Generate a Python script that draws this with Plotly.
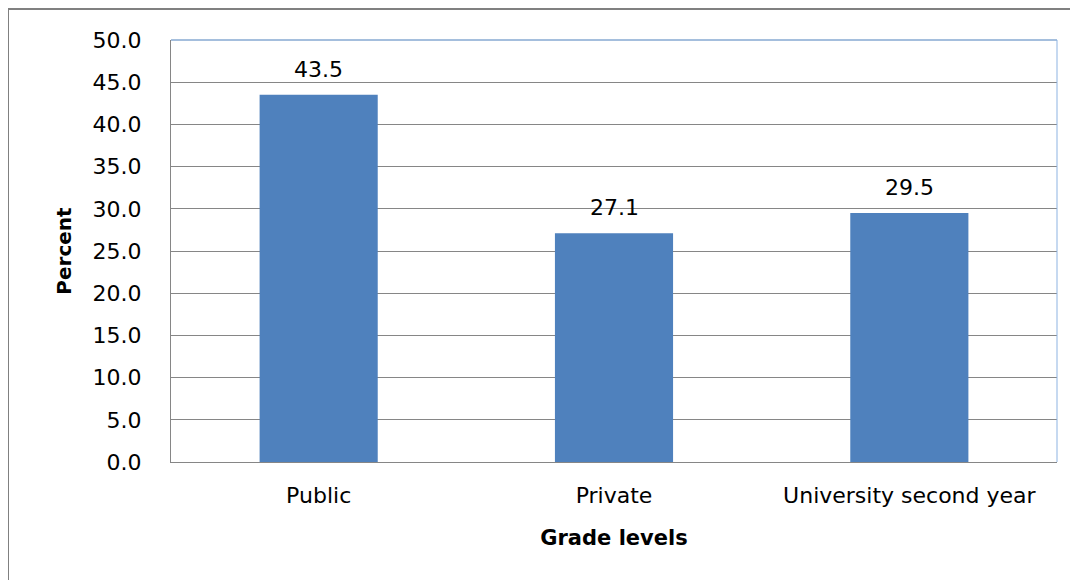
import plotly.graph_objects as go

categories = ["Public", "Private", "University second year"]
values = [43.5, 27.1, 29.5]
value_labels = ["43.5", "27.1", "29.5"]
y_ticks = [0, 5, 10, 15, 20, 25, 30, 35, 40, 45, 50]
y_tick_labels = ["0.0", "5.0", "10.0", "15.0", "20.0", "25.0", "30.0", "35.0", "40.0", "45.0", "50.0"]

FONT = "DejaVu Sans, sans-serif"
FS = 22

fig = go.Figure(go.Bar(
    x=categories, y=values,
    marker=dict(color="#4F81BD", line=dict(width=0)),
    width=0.4,
))

for c, v, t in zip(categories, values, value_labels):
    fig.add_annotation(x=c, y=v, text=t, showarrow=False, yanchor="bottom",
                       yshift=11, font=dict(size=FS, color="#000000", family=FONT))

# page has an 8px body margin; figure placed at (8, 8)
W, H = 1070, 572
L, R, T, B = 163, 21, 32, 118
pw, ph = W - L - R, H - T - B

def px_x(x):
    return (x - L) / pw

def px_y(y):
    return (H - B - y) / ph

fig.update_layout(
    width=W, height=H,
    margin=dict(l=L, r=R, t=T, b=B),
    paper_bgcolor="white", plot_bgcolor="white",
    showlegend=False,
    font=dict(family=FONT, size=FS, color="#000000"),
    xaxis=dict(
        showgrid=False, showline=True, linecolor="#868686", linewidth=1,
        ticks="outside", ticklen=14, tickcolor="rgba(0,0,0,0)",
        tickfont=dict(size=FS),
        title=dict(text="<b>Grade levels</b>", font=dict(size=21), standoff=22),
    ),
    yaxis=dict(
        range=[0, 50], tickvals=y_ticks, ticktext=y_tick_labels,
        showgrid=True, gridcolor="#868686", gridwidth=1,
        showline=True, linecolor="#868686", linewidth=1,
        ticks="outside", ticklen=24, tickcolor="rgba(0,0,0,0)",
        tickfont=dict(size=FS), zeroline=False,
        title=dict(text="<b>Percent</b>", font=dict(size=20), standoff=15),
    ),
    shapes=[
        dict(type="line", xref="paper", yref="paper", x0=0, x1=1, y0=1, y1=1,
             line=dict(color="#4A7EBB", width=1)),
        dict(type="line", xref="paper", yref="paper", x0=1, x1=1, y0=0, y1=1,
             line=dict(color="#8DB3E2", width=1)),
        dict(type="rect", xref="paper", yref="paper",
             x0=px_x(0), x1=px_x(1090), y0=px_y(600), y1=px_y(1),
             line=dict(color="#808080", width=2), fillcolor="rgba(0,0,0,0)", layer="below"),
    ],
)

fig.write_html("out.html")
